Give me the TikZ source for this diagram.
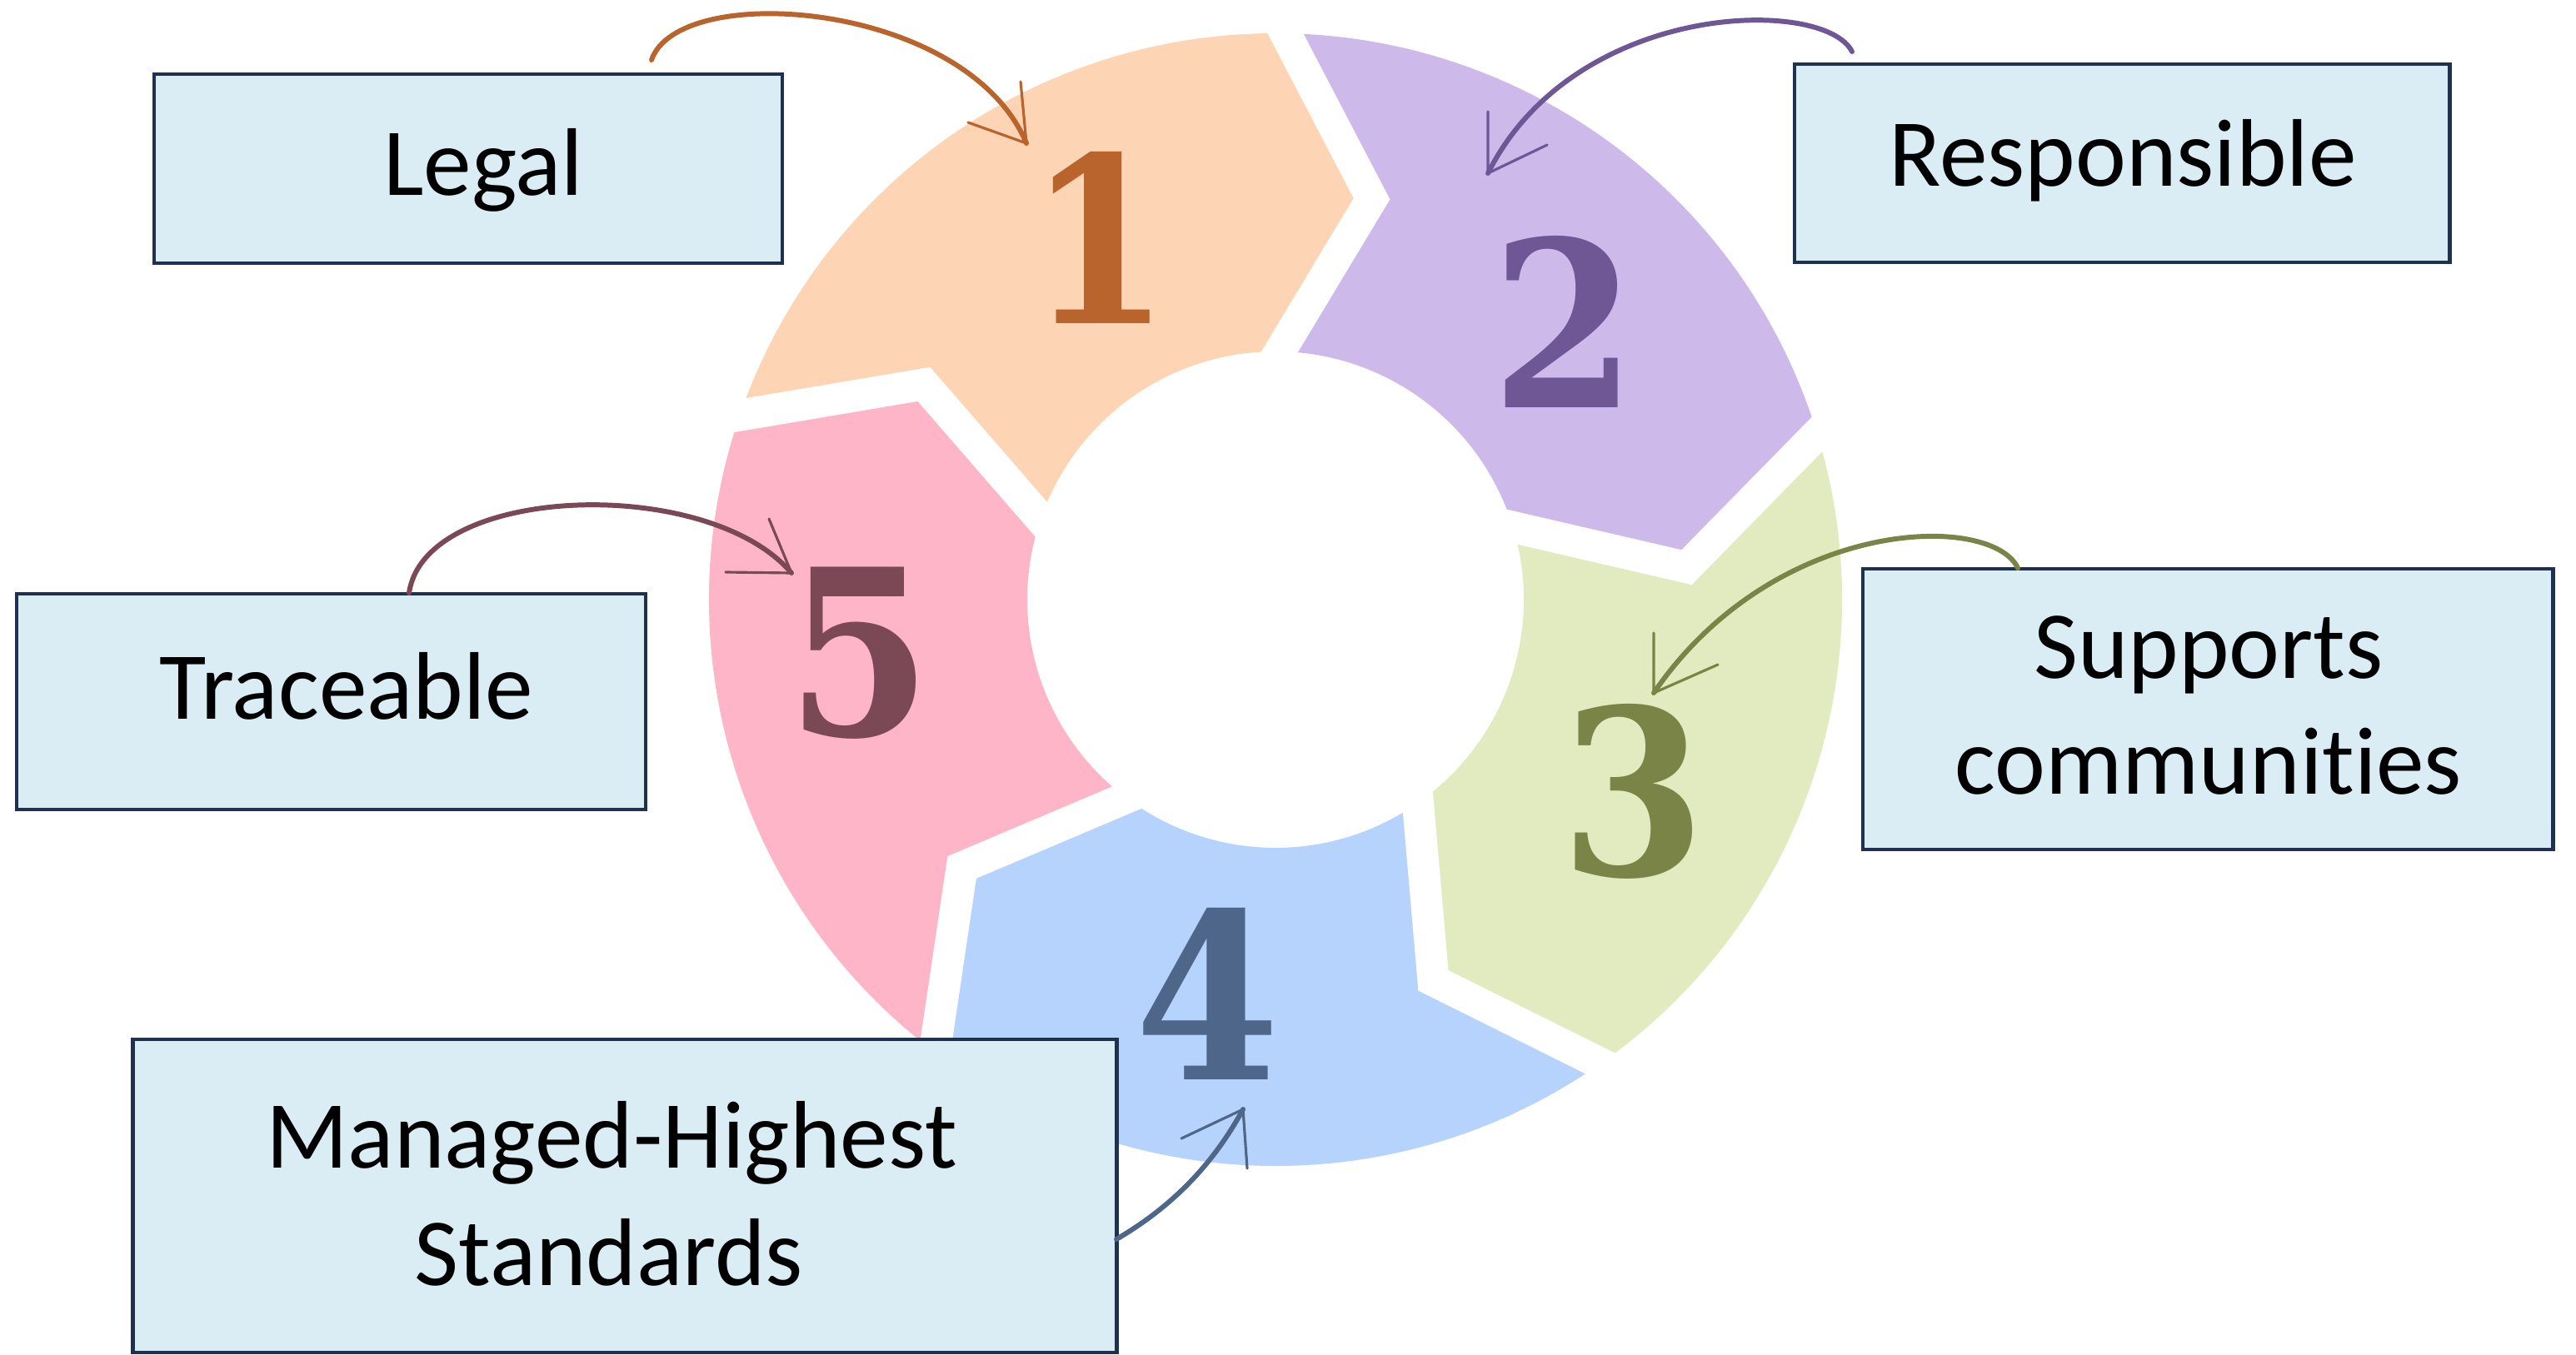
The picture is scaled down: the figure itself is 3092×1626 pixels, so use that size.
\documentclass[tikz,border=0pt]{standalone}
\usepackage{fontspec}
\setmainfont{Carlito}[RawFeature={-liga;-clig;-calt;-dlig}]
\newfontfamily\digitfont{DejaVu Serif}
\usetikzlibrary{calc}
\definecolor{segA}{HTML}{FDD4B4}
\definecolor{segB}{HTML}{CEBAEA}
\definecolor{segC}{HTML}{E2EBC0}
\definecolor{segD}{HTML}{B5D3FC}
\definecolor{segE}{HTML}{FEB5C8}
\definecolor{digA}{HTML}{B9642D}
\definecolor{digB}{HTML}{6F5795}
\definecolor{digC}{HTML}{7A8447}
\definecolor{digD}{HTML}{4E668A}
\definecolor{digE}{HTML}{7B4956}
\definecolor{boxfill}{HTML}{DBEDF4}
\definecolor{boxline}{HTML}{1E3250}
\tikzset{
  lbox/.style={draw=boxline, fill=boxfill, line width=0.045cm, inner sep=0pt},
  txt/.style={anchor=base, inner sep=0pt, text=black, font=\fontsize{32.8}{39.4}\selectfont},
  dig/.style={anchor=center, inner sep=0pt, font={\digitfont\bfseries\fontsize{79}{80}\selectfont}},
  arr/.style={line width=1.7pt, line cap=round},
  barb/.style={line width=0.9pt, line cap=round},
}
\begin{document}
\begin{tikzpicture}[x=0.01cm,y=0.01cm]
\useasboundingbox (0,0) rectangle (3092,1626);
\fill[white] (0,0) rectangle (3092,1626);
% ring
\begin{scope}[shift={(1531,906)}]
  \foreach \a/\c in {161/segA,89/segB,17/segC,-55/segD,-127/segE}{
    \pgfmathsetmacro\b{\a-72}
    \pgfmathsetmacro\ta{\a-12.5}
    \pgfmathsetmacro\tb{\b-12.5}
    \fill[\c] (\a:680) arc[start angle=\a,end angle=\b,radius=680]
      -- (\tb:495) -- (\b:298) arc[start angle=\b,end angle=\a,radius=298]
      -- (\ta:495) -- cycle;
  }
  \foreach \a in {161,89,17,-55,-127}{
    \pgfmathsetmacro\ta{\a-12.5}
    \draw[white,line width=0.38cm,line join=miter]
      ($(\a:680)!-0.15!(\ta:495)$) -- (\ta:495) -- ($(\a:298)!-0.25!(\ta:495)$);
  }
\end{scope}
% digits
\node[dig,text=digA] (d1) at (1320,1341) {\scalebox{0.88}[1]{1}};
\node[dig,text=digB] (d2) at (1877,1240) {\scalebox{0.9}[1]{2}};
\node[dig,text=digC] (d3) at (1960,676) {\scalebox{0.9}[1]{3}};
\node[dig,text=digD] (d4) at (1449,433) {\scalebox{0.9}[1]{4}};
\node[dig,text=digE] (d5) at (1031,842) {\scalebox{0.9}[1]{5}};
% boxes
\node[lbox,minimum width=7.54cm,minimum height=2.27cm] (bLegal) at (562,1423.5) {};
\node[lbox,minimum width=7.86cm,minimum height=2.38cm] (bResp) at (2547,1430) {};
\node[lbox,minimum width=8.28cm,minimum height=3.37cm] (bSup) at (2650,774.5) {};
\node[lbox,minimum width=7.55cm,minimum height=2.59cm] (bTrace) at (397.5,783.5) {};
\node[lbox,minimum width=11.80cm,minimum height=3.76cm] (bMan) at (750,190) {};
% texts
\node[txt] (tLegal) at (580,1391) {Legal};
\node[txt] (tResp) at (2548,1402) {Responsible};
\node[txt] (tSup1) at (2651,812) {Supports};
\node[txt] (tSup2) at (2651,673) {communit\kern0pt{}ies};
\node[txt] (tTrace) at (416,763) {Traceable};
\node[txt] (tMan1) at (734,224) {Managed-Highest};
\node[txt] (tMan2) at (731,83) {Standards};
% arrows
\coordinate (a1s) at (782,1554); \coordinate (a1t) at (1232,1454);
\coordinate (a1b) at (1225,1528); \coordinate (a1c) at (1162,1479);
\draw[arr,digA] (a1s) .. controls (815,1650) and (1160,1625) .. (a1t);
\draw[barb,digA] (a1b) -- (a1t) -- (a1c);
\coordinate (a2s) at (2223,1564); \coordinate (a2t) at (1786,1418);
\coordinate (a2b) at (1786,1492); \coordinate (a2c) at (1857,1452);
\draw[arr,digB] (a2s) .. controls (2190,1630) and (1890,1626) .. (a2t);
\draw[barb,digB] (a2b) -- (a2t) -- (a2c);
\coordinate (a3s) at (2422,944); \coordinate (a3t) at (1985,794);
\coordinate (a3b) at (1985,866); \coordinate (a3c) at (2062,828);
\draw[arr,digC] (a3s) .. controls (2390,1011) and (2130,1006) .. (a3t);
\draw[barb,digC] (a3b) -- (a3t) -- (a3c);
\coordinate (a4s) at (1340,138); \coordinate (a4t) at (1492,294);
\coordinate (a4b) at (1497,223); \coordinate (a4c) at (1418,259);
\draw[arr,digD] (a4s) .. controls (1405,176) and (1455,226) .. (a4t);
\draw[barb,digD] (a4b) -- (a4t) -- (a4c);
\coordinate (a5s) at (491,914); \coordinate (a5t) at (950,938);
\coordinate (a5b) at (923,1003); \coordinate (a5c) at (871,939);
\draw[arr,digE] (a5s) .. controls (510,1045) and (850,1056) .. (a5t);
\draw[barb,digE] (a5b) -- (a5t) -- (a5c);
\end{tikzpicture}
\end{document}
